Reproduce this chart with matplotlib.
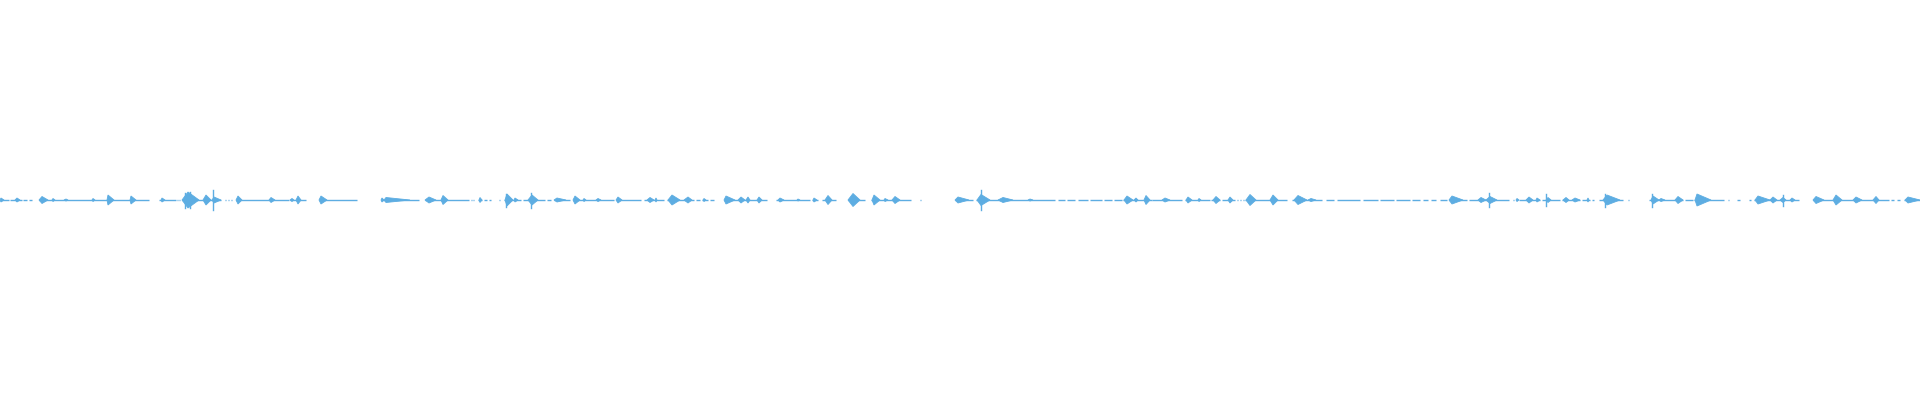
import matplotlib
matplotlib.use("Agg")
import matplotlib.pyplot as plt

# waveform drawn as: flat baseline runs, bursts (start, peak, end, amplitude) and single spikes
# x is the sample column (0..1920), amplitude in pixels about the centre line
baseline_runs = [
    (0, 9), (10, 22), (23, 27), (29, 32), (39, 149), (159, 176), (177, 178), (179, 180),
    (182, 221), (225, 226), (228, 229), (231, 232), (236, 289), (290, 306), (320, 357), (381, 384),
    (384, 419), (425, 469), (471, 472), (473, 474), (478, 482), (484, 487), (489, 491), (499, 500),
    (504, 521), (523, 545), (547, 551), (554, 570), (573, 614), (617, 641), (644, 664), (667, 694),
    (696, 700), (702, 708), (710, 714), (724, 767),
    (776, 810), (812, 818), (822, 836), (848, 865), (871, 911), (920, 921), (955, 973), (976, 1055),
    (1058, 1065), (1067, 1075), (1078, 1088), (1090, 1102), (1104, 1112), (1114, 1122), (1123, 1152),
    (1152, 1182), (1185, 1210), (1211, 1220), (1222, 1235), (1237, 1238), (1240, 1241), (1243, 1244),
    (1245, 1287), (1292, 1322), (1326, 1334), (1337, 1360), (1363, 1378), (1380, 1394), (1396, 1410),
    (1412, 1420), (1423, 1428), (1431, 1436), (1440, 1447), (1449, 1467), (1469, 1509), (1513, 1514),
    (1516, 1517), (1519, 1536),
    (1536, 1540), (1542, 1560), (1562, 1580), (1582, 1590), (1592, 1594), (1599, 1623), (1628, 1629),
    (1649, 1683), (1685, 1693), (1694, 1724), (1728, 1729), (1737, 1740), (1749, 1751), (1754, 1799),
    (1813, 1889), (1891, 1894), (1897, 1900), (1904, 1920),
]

bursts = [
    (0, 1, 4, 2), (15, 17, 20, 2), (39, 42, 48, 3.5), (52, 53, 55, 1.5), (64, 66, 68, 1),
    (92, 93, 95, 1.5), (107, 108, 114, 5), (130, 131, 136, 4), (161, 162, 165, 2), (182, 188, 199, 8),
    (203, 206, 211, 5), (212, 214, 221, 3), (236, 238, 242, 4), (269, 271, 275, 2.5), (290, 292, 294, 1.5),
    (296, 298, 301, 4), (319, 321, 327, 4), (381, 382, 384, 2),
    (384, 386, 410, 2.5), (425, 429, 436, 3), (441, 443, 448, 4.5), (479, 480, 482, 2.5), (505, 507, 513, 6),
    (514, 515, 518, 2), (528, 532, 538, 5), (554, 557, 566, 2), (573, 575, 580, 4), (583, 584, 586, 1.5),
    (596, 598, 601, 1.5), (616, 618, 622, 3), (647, 650, 654, 2.5), (655, 656, 657, 2), (668, 672, 680, 5),
    (684, 688, 692, 3), (703, 704, 706, 1.5), (724, 726, 735, 4), (738, 741, 745, 3), (746, 748, 750, 3),
    (757, 759, 762, 3),
    (778, 780, 784, 2), (797, 798, 800, 1), (813, 814, 817, 2), (825, 828, 832, 4.5), (848, 853, 860, 6.5),
    (872, 874, 880, 5), (884, 885, 888, 1.5), (892, 895, 900, 3.5), (955, 958, 969, 3), (977, 981, 990, 5.5),
    (998, 1003, 1013, 2.5), (1028, 1030, 1033, 1), (1124, 1127, 1133, 4), (1134, 1136, 1138, 2),
    (1144, 1146, 1150, 4.5),
    (1162, 1165, 1170, 2), (1186, 1188, 1192, 3), (1198, 1199, 1201, 1.5), (1213, 1216, 1220, 3.5),
    (1228, 1230, 1233, 3), (1246, 1250, 1256, 5.5), (1270, 1273, 1278, 5), (1294, 1298, 1307, 4.5),
    (1308, 1311, 1316, 1.5), (1449, 1452, 1463, 4), (1478, 1481, 1486, 2.5), (1486, 1490, 1497, 3.5),
    (1516, 1517, 1519, 1.5), (1526, 1529, 1533, 3),
    (1536, 1537, 1540, 2), (1546, 1548, 1551, 2.5), (1563, 1566, 1569, 2.5), (1572, 1575, 1580, 2),
    (1587, 1588, 1589, 2), (1603, 1607, 1620, 5), (1651, 1653, 1659, 4), (1659, 1661, 1665, 1.5),
    (1675, 1678, 1683, 3.5), (1695, 1697, 1711, 6), (1755, 1758, 1770, 4), (1770, 1773, 1777, 3),
    (1780, 1783, 1786, 2.5), (1790, 1792, 1795, 2), (1813, 1816, 1824, 3.5), (1833, 1836, 1842, 5),
    (1853, 1856, 1862, 3), (1873, 1876, 1879, 3.5), (1905, 1908, 1920, 3),
]

spikes = [
    (185, 7.5), (190, 8), (213, 10), (506, 6.5), (531, 7.5), (981, 10), (1489, 7),
    (1546, 6), (1605, 6.5), (1652, 6.5), (1783, 5.5),
]

color = '#5dade2'

fig = plt.figure(figsize=(19.2, 4), dpi=100)
ax = fig.add_axes([0, 0, 1, 1])

for x0, x1 in baseline_runs:
    ax.plot([x0, x1], [0, 0], color=color, linewidth=1.0, solid_capstyle='butt')

for x0, xp, x1, amp in bursts:
    ax.fill([x0, xp, x1, xp], [0, amp, 0, -amp], color=color, linewidth=0.6, edgecolor=color)

for x, amp in spikes:
    ax.plot([x, x], [-amp, amp], color=color, linewidth=1.0)

ax.set_xlim(0, 1920)
ax.set_ylim(-200, 200)
ax.axis('off')

fig.savefig('out.png', dpi=100, facecolor='white')
